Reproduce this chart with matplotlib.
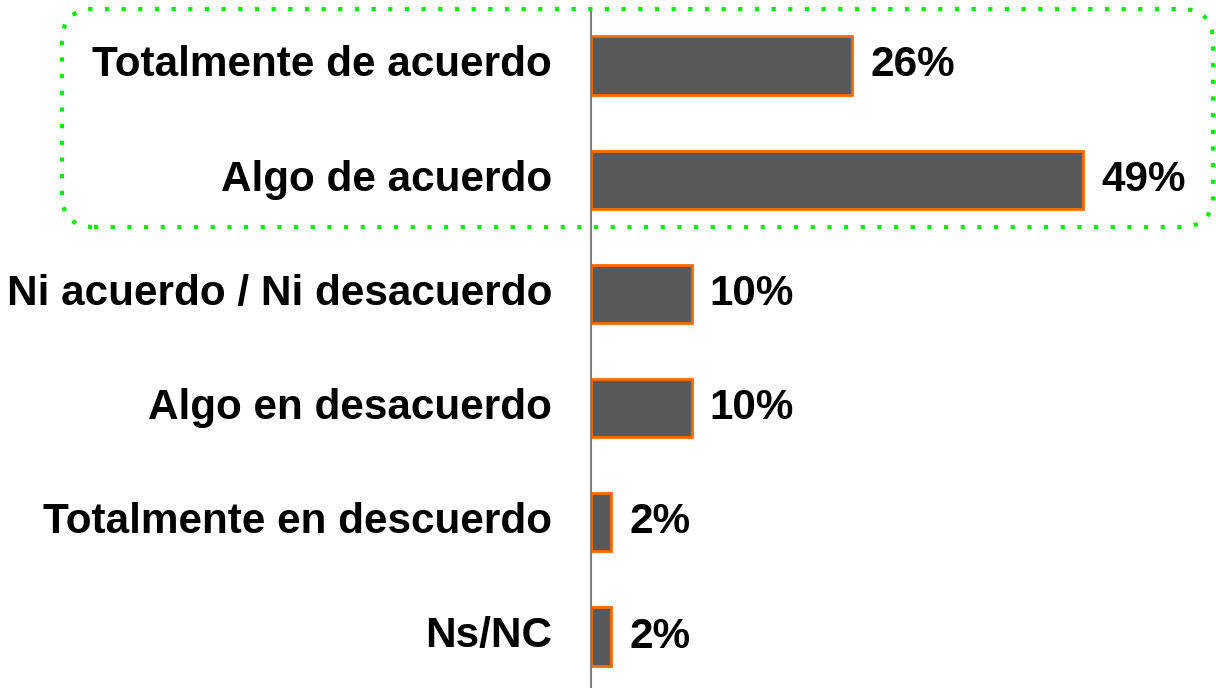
import matplotlib
matplotlib.use("Agg")
import matplotlib.pyplot as plt
import matplotlib.patches as mpatches

categories = ["Totalmente de acuerdo", "Algo de acuerdo", "Ni acuerdo / Ni desacuerdo",
              "Algo en desacuerdo", "Totalmente en descuerdo", "Ns/NC"]
values = [26, 49, 10, 10, 2, 2]
value_labels = ["26%", "49%", "10%", "10%", "2%", "2%"]

W, H = 1216, 688
fig = plt.figure(figsize=(W / 100, H / 100), dpi=100)
ax = fig.add_axes([0, 0, 1, 1])
ax.axis("off")

px_per_unit = 10.05
x0 = 591
ax.set_xlim(-x0 / px_per_unit, (W - x0) / px_per_unit)
c0, step = 65.5, 114.2
ax.set_ylim((H - c0) / step, -c0 / step)

ypos = list(range(len(categories)))
ax.barh(ypos, values, height=0.51, color="#595959", edgecolor="#FF6A00", linewidth=2.0, zorder=3)

font = dict(family=["Liberation Sans", "DejaVu Sans"], fontweight="bold", fontsize=30.4, color="black")
for y, cat, v, lab in zip(ypos, categories, values, value_labels):
    ax.text(-39 / px_per_unit, y, cat, ha="right", va="center", **font)
    ax.text(v + 1.8, y, lab, ha="left", va="center", **font)

# vertical axis line
ax.plot([0, 0], [(9 - c0) / step, (H - c0) / step + 0.1], color="#808080", lw=1.5, zorder=4, clip_on=False)

# green dotted rounded box (pixel coords)
box = mpatches.FancyBboxPatch((62, H - 227), 1213 - 62, 227 - 9,
                              boxstyle="round,pad=0,rounding_size=32",
                              transform=None, fill=False, edgecolor="#00EE00",
                              linewidth=3.0, linestyle=(0, (1, 3.0)), zorder=5)
fig.patches.append(box)

fig.savefig("out.png", dpi=100)
